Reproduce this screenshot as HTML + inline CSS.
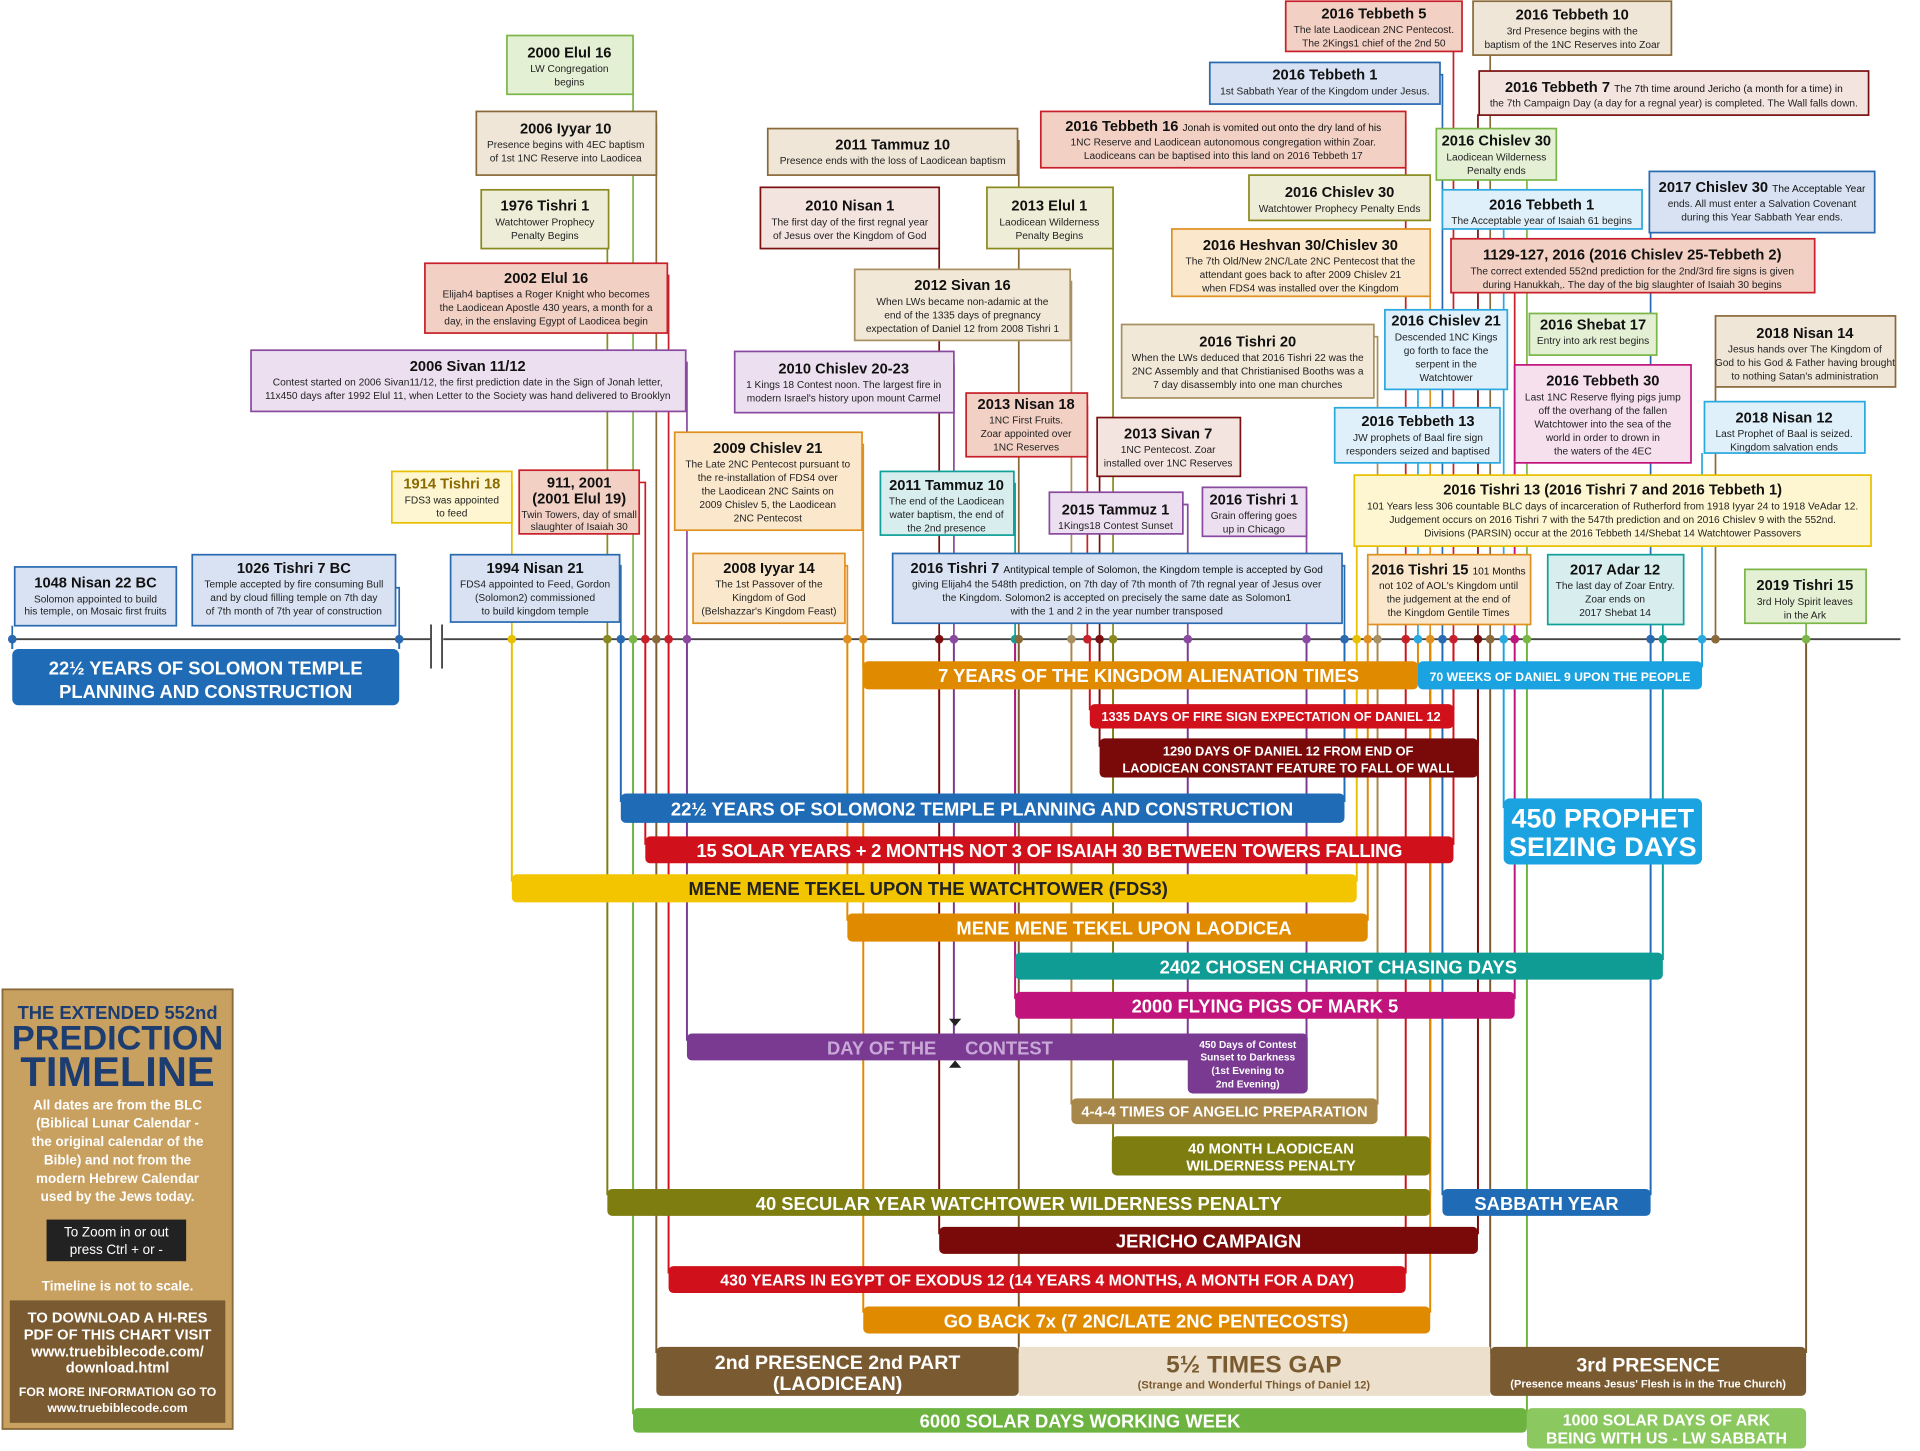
<!DOCTYPE html>
<html><head><meta charset="utf-8"><style>
html,body{margin:0;padding:0;background:#fff}
svg{display:block}
text{font-family:"Liberation Sans",sans-serif}
.t{font-size:12px;font-weight:bold;fill:#111;text-anchor:middle}
.s{font-size:8.3px;fill:#222;text-anchor:middle}
.L{font-size:15px;font-weight:bold;fill:#fff;text-anchor:middle}
.Ls{font-size:12px;font-weight:bold;fill:#fff;text-anchor:middle}
</style></head><body>
<svg width="1920" height="1451" viewBox="0 0 1568 1185" xmlns="http://www.w3.org/2000/svg">
<rect width="1568" height="1185" fill="#fff"/>
<!-- axis -->
<line x1="8" y1="522" x2="352" y2="522" stroke="#444" stroke-width="1.5"/>
<line x1="362" y1="522" x2="1552" y2="522" stroke="#444" stroke-width="1.5"/>
<line x1="352" y1="510" x2="352" y2="546" stroke="#444" stroke-width="1.5"/>
<line x1="361" y1="510" x2="361" y2="546" stroke="#444" stroke-width="1.5"/>

<g fill="none" stroke-width="1.6">
<path d="M10 522V530M326 522V530" stroke="#1f6bb5"/>
<path d="M705 522V545M1158 522V545" stroke="#e08a00"/>
<path d="M1390 522V545" stroke="#1aa3e0"/>
<path d="M890 522V580M1187 522V580" stroke="#d0101a"/>
<path d="M898 522V610M1207 522V610" stroke="#7a0a0a"/>
<path d="M507 522V655M1098 522V655" stroke="#1f6bb5"/>
<path d="M1228 522V660" stroke="#1aa3e0"/>
<path d="M527 522V690M1187 522V690" stroke="#d0101a"/>
<path d="M418 522V720M1108 522V720" stroke="#e8c000"/>
<path d="M692 522V752M1117 522V752" stroke="#e08a00"/>
<path d="M829 522V784M1358 522V784" stroke="#0e9c94"/>
<path d="M829 522V816M1237 522V816" stroke="#c0147c"/>
<path d="M561 522V850M1067 522V850M970 522V850" stroke="#7a3a92"/>
<path d="M779 522V850" stroke="#7a3a92"/>
<path d="M875 522V902M1125 522V902" stroke="#a8884a"/>
<path d="M909 522V934M1168 522V934" stroke="#7d7d10"/>
<path d="M496 522V976M1168 522V976" stroke="#7d7d10"/>
<path d="M1178 522V976M1348 522V976" stroke="#1f6bb5"/>
<path d="M767 522V1008M1207 522V1008" stroke="#7a0a0a"/>
<path d="M546 522V1040M1148 522V1040" stroke="#d0101a"/>
<path d="M705 522V1072M1168 522V1072" stroke="#e08a00"/>
<path d="M536 522V1105M832 522V1105" stroke="#7a5a30"/>
<path d="M1217 522V1105M1475 522V1105" stroke="#7a5a30"/>
<path d="M517 522V1155M1247 522V1155" stroke="#6db33f"/>
</g>

<!-- bars -->
<rect x="10" y="530" width="316" height="46" rx="5" fill="#1f6bb5"/>
<text class="L" x="168" y="551">22½ YEARS OF SOLOMON TEMPLE</text><text class="L" x="168" y="570">PLANNING AND CONSTRUCTION</text>
<rect x="705" y="540" width="453" height="23" rx="4" fill="#e08a00"/><text class="L" x="938" y="557">7 YEARS OF THE KINGDOM ALIENATION TIMES</text>
<rect x="1158" y="540" width="232" height="23" rx="4" fill="#1aa3e0"/><text class="Ls" x="1274" y="556" style="font-size:10px">70 WEEKS OF DANIEL 9 UPON THE PEOPLE</text>
<rect x="890" y="575" width="297" height="20" rx="4" fill="#d0101a"/><text class="Ls" x="1038" y="589" style="font-size:10.5px">1335 DAYS OF FIRE SIGN EXPECTATION OF DANIEL 12</text>
<rect x="898" y="603" width="309" height="32" rx="4" fill="#7a0a0a"/><text class="Ls" x="1052" y="617" style="font-size:10.5px">1290 DAYS OF DANIEL 12 FROM END OF</text><text class="Ls" x="1052" y="631" style="font-size:10.5px">LAODICEAN CONSTANT FEATURE TO FALL OF WALL</text>
<rect x="507" y="648" width="591" height="24" rx="4" fill="#1f6bb5"/><text class="L" x="802" y="666">22½ YEARS OF SOLOMON2 TEMPLE PLANNING AND CONSTRUCTION</text>
<rect x="1228" y="652" width="162" height="54" rx="5" fill="#1aa3e0"/><text class="L" x="1309" y="676" style="font-size:22px">450 PROPHET</text><text class="L" x="1309" y="699" style="font-size:22px">SEIZING DAYS</text>
<rect x="527" y="683" width="660" height="22" rx="4" fill="#d0101a"/><text class="L" x="857" y="700" style="letter-spacing:-0.2px">15 SOLAR YEARS + 2 MONTHS NOT 3 OF ISAIAH 30 BETWEEN TOWERS FALLING</text>
<rect x="418" y="714" width="690" height="23" rx="4" fill="#f2c500"/><text class="L" x="758" y="731" style="fill:#222">MENE MENE TEKEL UPON THE WATCHTOWER (FDS3)</text>
<rect x="692" y="746" width="425" height="23" rx="4" fill="#e08a00"/><text class="L" x="918" y="763">MENE MENE TEKEL UPON LAODICEA</text>
<rect x="829" y="778" width="529" height="22" rx="4" fill="#0e9c94"/><text class="L" x="1093" y="795">2402 CHOSEN CHARIOT CHASING DAYS</text>
<rect x="829" y="810" width="408" height="22" rx="4" fill="#c0147c"/><text class="L" x="1033" y="827">2000 FLYING PIGS OF MARK 5</text>
<rect x="561" y="844" width="506" height="22" rx="4" fill="#7a3a92"/><text class="L" x="720" y="861" style="fill:#c9a8d8">DAY OF THE</text><text class="L" x="824" y="861" style="fill:#c9a8d8">CONTEST</text>
<rect x="970" y="844" width="98" height="49" rx="4" fill="#7a3a92"/>
<text class="s" x="1019" y="856" style="fill:#fff;font-weight:bold">450 Days of Contest</text><text class="s" x="1019" y="866" style="fill:#fff;font-weight:bold">Sunset to Darkness</text><text class="s" x="1019" y="877" style="fill:#fff;font-weight:bold">(1st Evening to</text><text class="s" x="1019" y="888" style="fill:#fff;font-weight:bold">2nd Evening)</text>
<path d="M775 832l5 6 5-6zM775 872l5-6 5 6z" fill="#222"/>
<rect x="875" y="897" width="250" height="21" rx="4" fill="#a8884a"/><text class="Ls" x="1000" y="912">4-4-4 TIMES OF ANGELIC PREPARATION</text>
<rect x="908" y="928" width="260" height="32" rx="4" fill="#7d7d10"/><text class="Ls" x="1038" y="942">40 MONTH LAODICEAN</text><text class="Ls" x="1038" y="956">WILDERNESS PENALTY</text>
<rect x="496" y="971" width="672" height="22" rx="4" fill="#7d7d10"/><text class="L" x="832" y="988">40 SECULAR YEAR WATCHTOWER WILDERNESS PENALTY</text>
<rect x="1178" y="971" width="170" height="22" rx="4" fill="#1f6bb5"/><text class="L" x="1263" y="988">SABBATH YEAR</text>
<rect x="767" y="1002" width="440" height="22" rx="4" fill="#7a0a0a"/><text class="L" x="987" y="1019">JERICHO CAMPAIGN</text>
<rect x="546" y="1034" width="602" height="22" rx="4" fill="#d0101a"/><text class="Ls" x="847" y="1050" style="font-size:13px">430 YEARS IN EGYPT OF EXODUS 12 (14 YEARS 4 MONTHS, A MONTH FOR A DAY)</text>
<rect x="705" y="1067" width="463" height="22" rx="4" fill="#e08a00"/><text class="L" x="936" y="1084">GO BACK 7x (7 2NC/LATE 2NC PENTECOSTS)</text>
<rect x="536" y="1100" width="296" height="40" rx="4" fill="#7a5a30"/><text class="L" x="684" y="1118" style="font-size:16px">2nd PRESENCE 2nd PART</text><text class="L" x="684" y="1135" style="font-size:16px">(LAODICEAN)</text>
<rect x="832" y="1100" width="385" height="40" fill="#ece0cc"/><text class="L" x="1024" y="1121" style="fill:#7a5a30;font-size:20px">5½ TIMES GAP</text><text class="s" x="1024" y="1134" style="fill:#7a5a30;font-weight:bold;font-size:9px">(Strange and Wonderful Things of Daniel 12)</text>
<rect x="1217" y="1100" width="258" height="40" rx="4" fill="#7a5a30"/><text class="L" x="1346" y="1120" style="font-size:16px">3rd PRESENCE</text><text class="s" x="1346" y="1133" style="fill:#fff;font-weight:bold;font-size:9px">(Presence means Jesus' Flesh is in the True Church)</text>
<rect x="517" y="1150" width="730" height="20" rx="4" fill="#6db33f"/><text class="L" x="882" y="1166">6000 SOLAR DAYS WORKING WEEK</text>
<rect x="1247" y="1150" width="228" height="33" rx="4" fill="#8cc860"/><text class="L" x="1361" y="1164" style="font-size:13px">1000 SOLAR DAYS OF ARK</text><text class="L" x="1361" y="1179" style="font-size:13px">BEING WITH US - LW SABBATH</text>

<!-- left info box -->
<rect x="2" y="808" width="188" height="359" fill="#c8a060" stroke="#8a6a3a" stroke-width="1.5"/>
<text class="t" x="96" y="832" style="fill:#1d3d70;font-size:15px">THE EXTENDED 552nd</text>
<text class="t" x="96" y="857" style="fill:#1d3d70;font-size:28px">PREDICTION</text>
<text class="t" x="96" y="887" style="fill:#1d3d70;font-size:34px">TIMELINE</text>
<text class="t" x="96" y="906" style="fill:#fff;font-size:11px">All dates are from the BLC</text>
<text class="t" x="96" y="921" style="fill:#fff;font-size:11px">(Biblical Lunar Calendar -</text>
<text class="t" x="96" y="936" style="fill:#fff;font-size:11px">the original calendar of the</text>
<text class="t" x="96" y="951" style="fill:#fff;font-size:11px">Bible) and not from the</text>
<text class="t" x="96" y="966" style="fill:#fff;font-size:11px">modern Hebrew Calendar</text>
<text class="t" x="96" y="981" style="fill:#fff;font-size:11px">used by the Jews today.</text>
<rect x="38" y="996" width="114" height="34" fill="#222"/>
<text class="s" x="95" y="1010" style="fill:#fff;font-size:11px">To Zoom in or out</text><text class="s" x="95" y="1024" style="fill:#fff;font-size:11px">press Ctrl + or -</text>
<text class="t" x="96" y="1054" style="fill:#fff;font-size:11px">Timeline is not to scale.</text>
<rect x="8" y="1062" width="176" height="100" fill="#7a5a30"/>
<text class="t" x="96" y="1080" style="fill:#fff;font-size:12px">TO DOWNLOAD A HI-RES</text>
<text class="t" x="96" y="1094" style="fill:#fff;font-size:12px">PDF OF THIS CHART VISIT</text>
<text class="t" x="96" y="1108" style="fill:#fff;font-size:12px">www.truebiblecode.com/</text>
<text class="t" x="96" y="1121" style="fill:#fff;font-size:12px">download.html</text>
<text class="t" x="96" y="1140" style="fill:#fff;font-size:10px">FOR MORE INFORMATION GO TO</text>
<text class="t" x="96" y="1153" style="fill:#fff;font-size:10px">www.truebiblecode.com</text>

<!-- event box connectors -->
<g fill="none" stroke-width="1.4">
<path d="M10 511V522" stroke="#2a6ab0"/>
<path d="M323 480H326V522" stroke="#2a6ab0"/>
<path d="M418 395V522" stroke="#e8c000"/>
<path d="M522 394H527V522" stroke="#c8202a"/>
<path d="M506 462H507V522" stroke="#2a6ab0"/>
<path d="M497 165H496V522" stroke="#8a8a20"/>
<path d="M517 40V522" stroke="#7ab648"/>
<path d="M536 101V522" stroke="#8a6a3a"/>
<path d="M545 225H546V522" stroke="#c8202a"/>
<path d="M560 296H561V522" stroke="#8a4aa0"/>
<path d="M831 115H832V522" stroke="#8a6a3a"/>
<path d="M767 163V522" stroke="#7a1010"/>
<path d="M909 163V522" stroke="#8a8a20"/>
<path d="M874 230H875V522" stroke="#a89060"/>
<path d="M779 297V522" stroke="#8a4aa0"/>
<path d="M704 363H705V522" stroke="#e09020"/>
<path d="M690 462H692V522" stroke="#e09020"/>
<path d="M828 395H829V522" stroke="#10a098"/>
<path d="M888 331V522" stroke="#c8202a"/>
<path d="M898 351V522" stroke="#7a1010"/>
<path d="M966 412H970V522" stroke="#8a4aa0"/>
<path d="M1067 408V522" stroke="#8a4aa0"/>
<path d="M1096 462H1098V522" stroke="#2a6ab0"/>
<path d="M1122 275H1125V522" stroke="#a89060"/>
<path d="M1168 197V522" stroke="#e09020"/>
<path d="M1148 101V522" stroke="#c8202a"/>
<path d="M1176 61H1178V522" stroke="#2a6ab0"/>
<path d="M1187 42V522" stroke="#c8202a"/>
<path d="M1217 45V522" stroke="#8a6a3a"/>
<path d="M1208 94H1207V522" stroke="#7a1010"/>
<path d="M1247 147V522" stroke="#7ab648"/>
<path d="M1228 187V522" stroke="#2aa8e0"/>
<path d="M1348 190V522" stroke="#2a6ab0"/>
<path d="M1237 239V522" stroke="#c8202a"/>
<path d="M1158 318V522" stroke="#2aa8e0"/>
<path d="M1237 378V522" stroke="#c0147c"/>
<path d="M1401 316V522" stroke="#8a6a3a"/>
<path d="M1390 370V522" stroke="#2aa8e0"/>
<path d="M1108 446V522" stroke="#e8c000"/>
<path d="M1117 510V522" stroke="#e09020"/>
<path d="M1358 510V522" stroke="#10a098"/>
<path d="M1475 509V522" stroke="#7ab648"/>
</g>

<!-- axis dots -->
<g>
<circle cx="10" cy="522" r="3.5" fill="#2a6ab0"/><circle cx="326" cy="522" r="3.5" fill="#2a6ab0"/>
<circle cx="418" cy="522" r="3.5" fill="#e8c000"/><circle cx="496" cy="522" r="3.5" fill="#8a8a20"/>
<circle cx="507" cy="522" r="3.5" fill="#2a6ab0"/><circle cx="517" cy="522" r="3.5" fill="#7ab648"/>
<circle cx="527" cy="522" r="3.5" fill="#c8202a"/><circle cx="536" cy="522" r="3.5" fill="#8a6a3a"/>
<circle cx="546" cy="522" r="3.5" fill="#c8202a"/><circle cx="561" cy="522" r="3.5" fill="#8a4aa0"/>
<circle cx="692" cy="522" r="3.5" fill="#e09020"/><circle cx="705" cy="522" r="3.5" fill="#e09020"/>
<circle cx="767" cy="522" r="3.5" fill="#7a1010"/><circle cx="779" cy="522" r="3.5" fill="#8a4aa0"/>
<circle cx="829" cy="522" r="3.5" fill="#10a098"/><circle cx="832" cy="522" r="3.5" fill="#8a6a3a"/>
<circle cx="875" cy="522" r="3.5" fill="#a89060"/><circle cx="888" cy="522" r="3.5" fill="#c8202a"/>
<circle cx="898" cy="522" r="3.5" fill="#7a1010"/><circle cx="909" cy="522" r="3.5" fill="#8a8a20"/>
<circle cx="970" cy="522" r="3.5" fill="#8a4aa0"/><circle cx="1067" cy="522" r="3.5" fill="#8a4aa0"/>
<circle cx="1098" cy="522" r="3.5" fill="#2a6ab0"/><circle cx="1108" cy="522" r="3.5" fill="#e8c000"/>
<circle cx="1117" cy="522" r="3.5" fill="#e09020"/><circle cx="1125" cy="522" r="3.5" fill="#a89060"/>
<circle cx="1148" cy="522" r="3.5" fill="#c8202a"/><circle cx="1158" cy="522" r="3.5" fill="#2aa8e0"/>
<circle cx="1168" cy="522" r="3.5" fill="#e09020"/><circle cx="1178" cy="522" r="3.5" fill="#2a6ab0"/>
<circle cx="1187" cy="522" r="3.5" fill="#c8202a"/><circle cx="1207" cy="522" r="3.5" fill="#7a1010"/>
<circle cx="1217" cy="522" r="3.5" fill="#8a6a3a"/><circle cx="1228" cy="522" r="3.5" fill="#2aa8e0"/>
<circle cx="1237" cy="522" r="3.5" fill="#c0147c"/><circle cx="1247" cy="522" r="3.5" fill="#7ab648"/>
<circle cx="1348" cy="522" r="3.5" fill="#2a6ab0"/><circle cx="1358" cy="522" r="3.5" fill="#10a098"/>
<circle cx="1390" cy="522" r="3.5" fill="#2aa8e0"/><circle cx="1401" cy="522" r="3.5" fill="#8a6a3a"/>
<circle cx="1475" cy="522" r="3.5" fill="#7ab648"/>
</g>

<!-- event boxes -->
<g stroke-width="1.4">
<rect x="12" y="463" width="132" height="48" fill="#d8e2f2" stroke="#2a6ab0"/>
<rect x="157" y="453" width="166" height="58" fill="#d8e2f2" stroke="#2a6ab0"/>
<rect x="320" y="385" width="98" height="42" fill="#fdf6d0" stroke="#e8c000"/>
<rect x="424" y="384" width="98" height="52" fill="#f2d0c4" stroke="#c8202a"/>
<rect x="368" y="453" width="138" height="55" fill="#d8e2f2" stroke="#2a6ab0"/>
<rect x="393" y="155" width="104" height="48" fill="#eeeed8" stroke="#8a8a20"/>
<rect x="414" y="29" width="103" height="48" fill="#e4f0d4" stroke="#7ab648"/>
<rect x="389" y="91" width="147" height="52" fill="#f0e6d8" stroke="#8a6a3a"/>
<rect x="347" y="215" width="198" height="57" fill="#f2d0c4" stroke="#c8202a"/>
<rect x="205" y="286" width="355" height="50" fill="#ece0f0" stroke="#8a4aa0"/>
<rect x="627" y="105" width="204" height="38" fill="#f0e6d8" stroke="#8a6a3a"/>
<rect x="621" y="153" width="146" height="50" fill="#f4e4e0" stroke="#7a1010"/>
<rect x="806" y="153" width="103" height="50" fill="#eeeed8" stroke="#8a8a20"/>
<rect x="698" y="220" width="176" height="58" fill="#f2e8d8" stroke="#a89060"/>
<rect x="600" y="287" width="179" height="50" fill="#ece0f0" stroke="#8a4aa0"/>
<rect x="551" y="353" width="153" height="80" fill="#fbe8cc" stroke="#e09020"/>
<rect x="566" y="452" width="124" height="57" fill="#fbe8cc" stroke="#e09020"/>
<rect x="719" y="385" width="109" height="52" fill="#d8eeee" stroke="#10a098"/>
<rect x="789" y="321" width="99" height="52" fill="#f2d0c4" stroke="#c8202a"/>
<rect x="896" y="341" width="117" height="48" fill="#f4e4e0" stroke="#7a1010"/>
<rect x="857" y="402" width="109" height="34" fill="#ece0f0" stroke="#8a4aa0"/>
<rect x="982" y="398" width="85" height="40" fill="#ece0f0" stroke="#8a4aa0"/>
<rect x="729" y="452" width="367" height="57" fill="#d8e2f2" stroke="#2a6ab0"/>
<rect x="916" y="265" width="206" height="60" fill="#f2e8d8" stroke="#a89060"/>
<rect x="957" y="187" width="211" height="55" fill="#fbe8cc" stroke="#e09020"/>
<rect x="1020" y="143" width="148" height="37" fill="#eeeed8" stroke="#8a8a20"/>
<rect x="850" y="91" width="298" height="46" fill="#f2d0c4" stroke="#c8202a"/>
<rect x="988" y="51" width="188" height="34" fill="#d8e2f2" stroke="#2a6ab0"/>
<rect x="1050" y="1" width="144" height="41" fill="#f2d0c4" stroke="#c8202a"/>
<rect x="1203" y="1" width="162" height="44" fill="#f0e6d8" stroke="#8a6a3a"/>
<rect x="1208" y="58" width="318" height="36" fill="#f4e4e0" stroke="#7a1010"/>
<rect x="1173" y="105" width="98" height="42" fill="#e4f0d4" stroke="#7ab648"/>
<rect x="1178" y="155" width="163" height="32" fill="#dff0fa" stroke="#2aa8e0"/>
<rect x="1347" y="140" width="184" height="50" fill="#d8e2f2" stroke="#2a6ab0"/>
<rect x="1185" y="195" width="297" height="44" fill="#f2d0c4" stroke="#c8202a"/>
<rect x="1131" y="253" width="100" height="65" fill="#dff0fa" stroke="#2aa8e0"/>
<rect x="1249" y="256" width="104" height="34" fill="#e4f0d4" stroke="#7ab648"/>
<rect x="1237" y="298" width="144" height="80" fill="#f6e0ee" stroke="#c0147c"/>
<rect x="1090" y="333" width="135" height="45" fill="#dff0fa" stroke="#2aa8e0"/>
<rect x="1401" y="258" width="147" height="58" fill="#f0e6d8" stroke="#8a6a3a"/>
<rect x="1392" y="328" width="131" height="42" fill="#dff0fa" stroke="#2aa8e0"/>
<rect x="1106" y="388" width="422" height="58" fill="#fdf6d0" stroke="#e8c000"/>
<rect x="1117" y="453" width="133" height="57" fill="#fbe8cc" stroke="#e09020"/>
<rect x="1264" y="453" width="111" height="57" fill="#d8eeee" stroke="#10a098"/>
<rect x="1425" y="465" width="99" height="44" fill="#e4f0d4" stroke="#7ab648"/>
</g>

<!-- event box text -->
<text class="t" x="78" y="480">1048 Nisan 22 BC</text><text class="s" x="78" y="492">Solomon appointed to build</text><text class="s" x="78" y="502">his temple, on Mosaic first fruits</text>
<text class="t" x="240" y="468">1026 Tishri 7 BC</text><text class="s" x="240" y="480">Temple accepted by fire consuming Bull</text><text class="s" x="240" y="491">and by cloud filling temple on 7th day</text><text class="s" x="240" y="502">of 7th month of 7th year of construction</text>
<text class="t" x="369" y="399" style="fill:#8a6a00">1914 Tishri 18</text><text class="s" x="369" y="411">FDS3 was appointed</text><text class="s" x="369" y="422">to feed</text>
<text class="t" x="473" y="398">911, 2001</text><text class="t" x="473" y="411">(2001 Elul 19)</text><text class="s" x="473" y="423">Twin Towers, day of small</text><text class="s" x="473" y="433">slaughter of Isaiah 30</text>
<text class="t" x="437" y="468">1994 Nisan 21</text><text class="s" x="437" y="480">FDS4 appointed to Feed, Gordon</text><text class="s" x="437" y="491">(Solomon2) commissioned</text><text class="s" x="437" y="502">to build kingdom temple</text>
<text class="t" x="445" y="172">1976 Tishri 1</text><text class="s" x="445" y="184">Watchtower Prophecy</text><text class="s" x="445" y="195">Penalty Begins</text>
<text class="t" x="465" y="47">2000 Elul 16</text><text class="s" x="465" y="59">LW Congregation</text><text class="s" x="465" y="70">begins</text>
<text class="t" x="462" y="109">2006 Iyyar 10</text><text class="s" x="462" y="121">Presence begins with 4EC baptism</text><text class="s" x="462" y="132">of 1st 1NC Reserve into Laodicea</text>
<text class="t" x="446" y="231">2002 Elul 16</text><text class="s" x="446" y="243">Elijah4 baptises a Roger Knight who becomes</text><text class="s" x="446" y="254">the Laodicean Apostle 430 years, a month for a</text><text class="s" x="446" y="265">day, in the enslaving Egypt of Laodicea begin</text>
<text class="t" x="382" y="303">2006 Sivan 11/12</text><text class="s" x="382" y="315">Contest started on 2006 Sivan11/12, the first prediction date in the Sign of Jonah letter,</text><text class="s" x="382" y="326">11x450 days after 1992 Elul 11, when Letter to the Society was hand delivered to Brooklyn</text>
<text class="t" x="729" y="122">2011 Tammuz 10</text><text class="s" x="729" y="134">Presence ends with the loss of Laodicean baptism</text>
<text class="t" x="694" y="172">2010 Nisan 1</text><text class="s" x="694" y="184">The first day of the first regnal year</text><text class="s" x="694" y="195">of Jesus over the Kingdom of God</text>
<text class="t" x="857" y="172">2013 Elul 1</text><text class="s" x="857" y="184">Laodicean Wilderness</text><text class="s" x="857" y="195">Penalty Begins</text>
<text class="t" x="786" y="237">2012 Sivan 16</text><text class="s" x="786" y="249">When LWs became non-adamic at the</text><text class="s" x="786" y="260">end of the 1335 days of pregnancy</text><text class="s" x="786" y="271">expectation of Daniel 12 from 2008 Tishri 1</text>
<text class="t" x="689" y="305">2010 Chislev 20-23</text><text class="s" x="689" y="317">1 Kings 18 Contest noon. The largest fire in</text><text class="s" x="689" y="328">modern Israel's history upon mount Carmel</text>
<text class="t" x="627" y="370">2009 Chislev 21</text><text class="s" x="627" y="382">The Late 2NC Pentecost pursuant to</text><text class="s" x="627" y="393">the re-installation of FDS4 over</text><text class="s" x="627" y="404">the Laodicean 2NC Saints on</text><text class="s" x="627" y="415">2009 Chislev 5, the Laodicean</text><text class="s" x="627" y="426">2NC Pentecost</text>
<text class="t" x="628" y="468">2008 Iyyar 14</text><text class="s" x="628" y="480">The 1st Passover of the</text><text class="s" x="628" y="491">Kingdom of God</text><text class="s" x="628" y="502">(Belshazzar's Kingdom Feast)</text>
<text class="t" x="773" y="400">2011 Tammuz 10</text><text class="s" x="773" y="412">The end of the Laodicean</text><text class="s" x="773" y="423">water baptism, the end of</text><text class="s" x="773" y="434">the 2nd presence</text>
<text class="t" x="838" y="334">2013 Nisan 18</text><text class="s" x="838" y="346">1NC First Fruits.</text><text class="s" x="838" y="357">Zoar appointed over</text><text class="s" x="838" y="368">1NC Reserves</text>
<text class="t" x="954" y="358">2013 Sivan 7</text><text class="s" x="954" y="370">1NC Pentecost. Zoar</text><text class="s" x="954" y="381">installed over 1NC Reserves</text>
<text class="t" x="911" y="420">2015 Tammuz 1</text><text class="s" x="911" y="432">1Kings18 Contest Sunset</text>
<text class="t" x="1024" y="412">2016 Tishri 1</text><text class="s" x="1024" y="424">Grain offering goes</text><text class="s" x="1024" y="435">up in Chicago</text>
<text class="t" x="912" y="468"><tspan>2016 Tishri 7 </tspan><tspan style="font-weight:normal;font-size:8.3px">Antitypical temple of Solomon, the Kingdom temple is accepted by God</tspan></text><text class="s" x="912" y="480">giving Elijah4 the 548th prediction, on 7th day of 7th month of 7th regnal year of Jesus over</text><text class="s" x="912" y="491">the Kingdom. Solomon2 is accepted on precisely the same date as Solomon1</text><text class="s" x="912" y="502">with the 1 and 2 in the year number transposed</text>
<text class="t" x="1019" y="283">2016 Tishri 20</text><text class="s" x="1019" y="295">When the LWs deduced that 2016 Tishri 22 was the</text><text class="s" x="1019" y="306">2NC Assembly and that Christianised Booths was a</text><text class="s" x="1019" y="317">7 day disassembly into one man churches</text>
<text class="t" x="1062" y="204">2016 Heshvan 30/Chislev 30</text><text class="s" x="1062" y="216">The 7th Old/New 2NC/Late 2NC Pentecost that the</text><text class="s" x="1062" y="227">attendant goes back to after 2009 Chislev 21</text><text class="s" x="1062" y="238">when FDS4 was installed over the Kingdom</text>
<text class="t" x="1094" y="161">2016 Chislev 30</text><text class="s" x="1094" y="173">Watchtower Prophecy Penalty Ends</text>
<text class="t" x="999" y="107"><tspan>2016 Tebbeth 16 </tspan><tspan style="font-weight:normal;font-size:8.3px">Jonah is vomited out onto the dry land of his</tspan></text><text class="s" x="999" y="119">1NC Reserve and Laodicean autonomous congregation within Zoar.</text><text class="s" x="999" y="130">Laodiceans can be baptised into this land on 2016 Tebbeth 17</text>
<text class="t" x="1082" y="65">2016 Tebbeth 1</text><text class="s" x="1082" y="77">1st Sabbath Year of the Kingdom under Jesus.</text>
<text class="t" x="1122" y="15">2016 Tebbeth 5</text><text class="s" x="1122" y="27">The late Laodicean 2NC Pentecost.</text><text class="s" x="1122" y="38">The 2Kings1 chief of the 2nd 50</text>
<text class="t" x="1284" y="16">2016 Tebbeth 10</text><text class="s" x="1284" y="28">3rd Presence begins with the</text><text class="s" x="1284" y="39">baptism of the 1NC Reserves into Zoar</text>
<text class="t" x="1367" y="75"><tspan>2016 Tebbeth 7 </tspan><tspan style="font-weight:normal;font-size:8.3px">The 7th time around Jericho (a month for a time) in</tspan></text><text class="s" x="1367" y="87">the 7th Campaign Day (a day for a regnal year) is completed. The Wall falls down.</text>
<text class="t" x="1222" y="119">2016 Chislev 30</text><text class="s" x="1222" y="131">Laodicean Wilderness</text><text class="s" x="1222" y="142">Penalty ends</text>
<text class="t" x="1259" y="171">2016 Tebbeth 1</text><text class="s" x="1259" y="183">The Acceptable year of Isaiah 61 begins</text>
<text class="t" x="1439" y="157"><tspan>2017 Chislev 30 </tspan><tspan style="font-weight:normal;font-size:8.3px">The Acceptable Year</tspan></text><text class="s" x="1439" y="169">ends. All must enter a Salvation Covenant</text><text class="s" x="1439" y="180">during this Year Sabbath Year ends.</text>
<text class="t" x="1333" y="212">1129-127, 2016 (2016 Chislev 25-Tebbeth 2)</text><text class="s" x="1333" y="224">The correct extended 552nd prediction for the 2nd/3rd fire signs is given</text><text class="s" x="1333" y="235">during Hanukkah,. The day of the big slaughter of Isaiah 30 begins</text>
<text class="t" x="1181" y="266">2016 Chislev 21</text><text class="s" x="1181" y="278">Descended 1NC Kings</text><text class="s" x="1181" y="289">go forth to face the</text><text class="s" x="1181" y="300">serpent in the</text><text class="s" x="1181" y="311">Watchtower</text>
<text class="t" x="1301" y="269">2016 Shebat 17</text><text class="s" x="1301" y="281">Entry into ark rest begins</text>
<text class="t" x="1309" y="315">2016 Tebbeth 30</text><text class="s" x="1309" y="327">Last 1NC Reserve flying pigs jump</text><text class="s" x="1309" y="338">off the overhang of the fallen</text><text class="s" x="1309" y="349">Watchtower into the sea of the</text><text class="s" x="1309" y="360">world in order to drown in</text><text class="s" x="1309" y="371">the waters of the 4EC</text>
<text class="t" x="1158" y="348">2016 Tebbeth 13</text><text class="s" x="1158" y="360">JW prophets of Baal fire sign</text><text class="s" x="1158" y="371">responders seized and baptised</text>
<text class="t" x="1474" y="276">2018 Nisan 14</text><text class="s" x="1474" y="288">Jesus hands over The Kingdom of</text><text class="s" x="1474" y="299">God to his God &amp; Father having brought</text><text class="s" x="1474" y="310">to nothing Satan's administration</text>
<text class="t" x="1457" y="345">2018 Nisan 12</text><text class="s" x="1457" y="357">Last Prophet of Baal is seized.</text><text class="s" x="1457" y="368">Kingdom salvation ends</text>
<text class="t" x="1317" y="404">2016 Tishri 13 (2016 Tishri 7 and 2016 Tebbeth 1)</text><text class="s" x="1317" y="416">101 Years less 306 countable BLC days of incarceration of Rutherford from 1918 Iyyar 24 to 1918 VeAdar 12.</text><text class="s" x="1317" y="427">Judgement occurs on 2016 Tishri 7 with the 547th prediction and on 2016 Chislev 9 with the 552nd.</text><text class="s" x="1317" y="438">Divisions (PARSIN) occur at the 2016 Tebbeth 14/Shebat 14 Watchtower Passovers</text>
<text class="t" x="1183" y="469"><tspan>2016 Tishri 15 </tspan><tspan style="font-weight:normal;font-size:8.3px">101 Months</tspan></text><text class="s" x="1183" y="481">not 102 of AOL's Kingdom until</text><text class="s" x="1183" y="492">the judgement at the end of</text><text class="s" x="1183" y="503">the Kingdom Gentile Times</text>
<text class="t" x="1319" y="469">2017 Adar 12</text><text class="s" x="1319" y="481">The last day of Zoar Entry.</text><text class="s" x="1319" y="492">Zoar ends on</text><text class="s" x="1319" y="503">2017 Shebat 14</text>
<text class="t" x="1474" y="482">2019 Tishri 15</text><text class="s" x="1474" y="494">3rd Holy Spirit leaves</text><text class="s" x="1474" y="505">in the Ark</text>
</svg>
</body></html>
